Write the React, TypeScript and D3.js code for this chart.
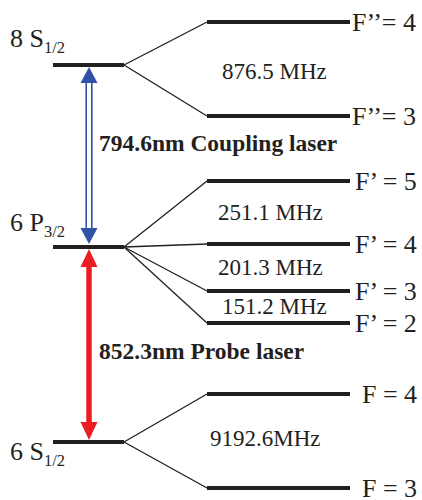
import * as d3 from 'd3';
import React from 'react';

// fine-structure levels (diagram units, top = 0)
const fineNames = ["8 S", "6 P", "6 S"];
const fineSubs = ["1/2", "3/2", "1/2"];
const fineY = [65, 247, 442];
const fineLabelY = [47, 231, 460];

// hyperfine sublevels: parent index, label, position
const hfParent = [0, 0, 1, 1, 1, 1, 2, 2];
const hfLabels = ["F\u2019\u2019= 4", "F\u2019\u2019= 3", "F\u2019 = 5", "F\u2019 = 4", "F\u2019 = 3", "F\u2019 = 2", "F = 4", "F = 3"];
const hfY = [22, 116, 181, 244, 291, 323, 394, 488];
const hfLabelX = [352, 352, 355, 355, 355, 355, 362, 362];

// splitting labels
const splitLabels = ["876.5 MHz", "251.1 MHz", "201.3 MHz", "151.2 MHz", "9192.6MHz"];
const splitY = [79, 220, 275, 314, 446];
const splitX = [222, 218, 218, 222, 210];

// laser transitions
const laserNames = ["794.6nm Coupling laser", "852.3nm Probe laser"];
const laserFrom = [1, 2];
const laserTo = [0, 1];
const laserLabelY = [151, 359];

const W = 422;
const H = 500;

function App(): any {
  const y = d3.scaleLinear().domain([0, 500]).range([0, H]);
  const x = d3.scaleLinear().domain([0, 422]).range([0, W]);
  const font = "'Liberation Serif', 'Times New Roman', serif";
  const ink = "#231f20";

  const fineX0 = x(53), fineX1 = x(124);
  const hfX0 = x(207), hfX1 = x(350);
  const arrowX = x(89);

  const tri = (tipY: number, dir: number, w: number, h: number) =>
    d3.line()([[arrowX, tipY], [arrowX - w / 2, tipY + dir * h], [arrowX + w / 2, tipY + dir * h]]) + "Z";

  const blue = "#2f52a5";
  const red = "#ec1c24";

  // coupling (blue, double line)
  const cTop = y(fineY[laserTo[0]]) + 2;
  const cBot = y(fineY[laserFrom[0]]) - 3;
  // probe (red)
  const pTop = y(fineY[laserTo[1]]) + 2;
  const pBot = y(fineY[laserFrom[1]]) - 2;

  return (
    <svg width={W} height={H} style={{ position: "absolute", left: 0, top: 0, background: "#fff" }}>
      {/* connectors */}
      {hfY.map((v, i) => (
        <line key={"c" + i} x1={fineX1} y1={y(fineY[hfParent[i]])} x2={hfX0} y2={y(v)}
          stroke={ink} strokeWidth={1.3} />
      ))}
      {/* fine levels */}
      {fineY.map((v, i) => (
        <line key={"f" + i} x1={fineX0} x2={fineX1} y1={y(v)} y2={y(v)} stroke={ink} strokeWidth={4} />
      ))}
      {/* hyperfine levels */}
      {hfY.map((v, i) => (
        <line key={"h" + i} x1={hfX0} x2={hfX1} y1={y(v)} y2={y(v)} stroke={ink} strokeWidth={4} />
      ))}
      {/* fine labels */}
      {fineNames.map((n, i) => (
        <text key={"fl" + i} x={x(10)} y={y(fineLabelY[i])} fontFamily={font} fontSize={26} fill={ink}>
          {n}
          <tspan fontSize={16.5} dy={6}>{fineSubs[i]}</tspan>
        </text>
      ))}
      {/* hyperfine labels */}
      {hfLabels.map((n, i) => (
        <text key={"hl" + i} x={x(hfLabelX[i])} y={y(hfY[i]) + 9} fontFamily={font} fontSize={26} fill={ink}>{n}</text>
      ))}
      {/* splitting labels */}
      {splitLabels.map((n, i) => (
        <text key={"s" + i} x={x(splitX[i])} y={y(splitY[i])} fontFamily={font} fontSize={23} fill={ink}>{n}</text>
      ))}
      {/* coupling laser */}
      <line x1={arrowX - 2.8} x2={arrowX - 2.8} y1={cTop + 14} y2={cBot - 14} stroke={blue} strokeWidth={1.6} />
      <line x1={arrowX + 2.8} x2={arrowX + 2.8} y1={cTop + 14} y2={cBot - 14} stroke={blue} strokeWidth={1.6} />
      <path d={tri(cTop, 1, 17, 16)} fill={blue} />
      <path d={tri(cBot, -1, 17, 16)} fill={blue} />
      {/* probe laser */}
      <line x1={arrowX} x2={arrowX} y1={pTop + 15} y2={pBot - 15} stroke={red} strokeWidth={5.5} />
      <path d={tri(pTop, 1, 17, 18)} fill={red} />
      <path d={tri(pBot, -1, 17, 18)} fill={red} />
      {/* laser labels */}
      {laserNames.map((n, i) => (
        <text key={"l" + i} x={x(99)} y={y(laserLabelY[i])} fontFamily={font} fontSize={23.5} fontWeight="bold" fill={ink}>{n}</text>
      ))}
    </svg>
  );
}

export default App;
